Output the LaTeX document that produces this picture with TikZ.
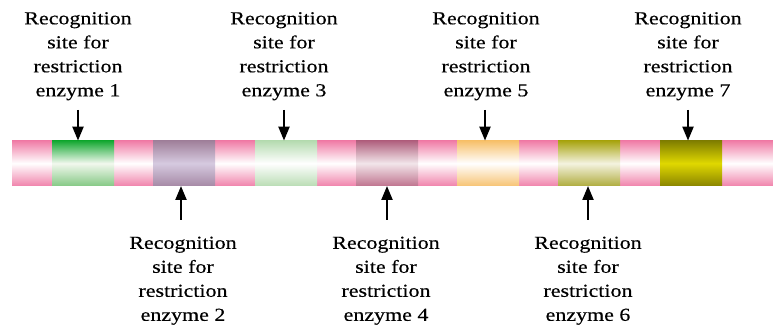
\documentclass[tikz,border=0pt]{standalone}
\usepackage{fontspec}
\setmainfont[FakeStretch=1.2,FakeBold=0.4]{Liberation Serif}
\usetikzlibrary{arrows.meta}
\definecolor{pinkT}{HTML}{F07CA6}
\definecolor{pinkB}{HTML}{F084AC}
\definecolor{gAT}{HTML}{14A832}\definecolor{gAM}{HTML}{F2F8EE}\definecolor{gAB}{HTML}{86C986}
\definecolor{pBT}{HTML}{A0809A}\definecolor{pBM}{HTML}{D6CAE0}\definecolor{pBB}{HTML}{A68AA6}
\definecolor{gCT}{HTML}{B5DBB0}\definecolor{gCB}{HTML}{BADDB5}
\definecolor{mDT}{HTML}{B0607E}\definecolor{mDM}{HTML}{F2E6EA}\definecolor{mDB}{HTML}{C07590}
\definecolor{oET}{HTML}{F7C06A}\definecolor{oEB}{HTML}{F7C475}
\definecolor{yFT}{HTML}{A8A410}\definecolor{yFM}{HTML}{F4F3E0}\definecolor{yFB}{HTML}{B0AD40}
\definecolor{yGT}{HTML}{807E00}\definecolor{yGM}{HTML}{E0D800}\definecolor{yGB}{HTML}{8A8500}
\tikzset{
  seg/.style={draw=none, inner sep=0pt, minimum width=62pt, minimum height=45pt, anchor=south west},
  lbl/.style={align=center, inner sep=0pt, anchor=north, font=\fontsize{18.3}{24}\selectfont},
  arr/.style={line width=2.2pt, -{Triangle[length=14pt,width=11pt]}}
}
\begin{document}
\begin{tikzpicture}[x=1pt,y=1pt]
\useasboundingbox (0,0) rectangle (773,326);
% pink bar
\node[seg, minimum width=761pt, top color=pinkT, bottom color=pinkB, middle color=white] (bar) at (12,140) {};
% segments
\node[seg, top color=gAT, bottom color=gAB, middle color=gAM] (s1) at (52,140) {};
\node[seg, top color=pBT, bottom color=pBB, middle color=pBM] (s2) at (153,140) {};
\node[seg, top color=gCT, bottom color=gCB, middle color=white] (s3) at (255,140) {};
\node[seg, top color=mDT, bottom color=mDB, middle color=mDM] (s4) at (356,140) {};
\node[seg, top color=oET, bottom color=oEB, middle color=white] (s5) at (457,140) {};
\node[seg, top color=yFT, bottom color=yFB, middle color=yFM] (s6) at (558,140) {};
\node[seg, top color=yGT, bottom color=yGB, middle color=yGM] (s7) at (660,140) {};
% top labels
\node[lbl] (l1) at (78,314) {Recognition\\site for\\restriction\\enzyme 1};
\node[lbl] (l3) at (284,314) {Recognition\\site for\\restriction\\enzyme 3};
\node[lbl] (l5) at (486,314) {Recognition\\site for\\restriction\\enzyme 5};
\node[lbl] (l7) at (688,314) {Recognition\\site for\\restriction\\enzyme 7};
% bottom labels
\node[lbl] (l2) at (183,89.5) {Recognition\\site for\\restriction\\enzyme 2};
\node[lbl] (l4) at (386,89.5) {Recognition\\site for\\restriction\\enzyme 4};
\node[lbl] (l6) at (588,89.5) {Recognition\\site for\\restriction\\enzyme 6};
% arrow start points
\coordinate (a1) at (78,216);
\coordinate (a3) at (284,216);
\coordinate (a5) at (485,216);
\coordinate (a7) at (688,216);
\coordinate (a2) at (181,106);
\coordinate (a4) at (387,106);
\coordinate (a6) at (588,106);
\draw[arr] (a1) -- (a1 |- s1.north);
\draw[arr] (a3) -- (a3 |- s3.north);
\draw[arr] (a5) -- (a5 |- s5.north);
\draw[arr] (a7) -- (a7 |- s7.north);
\draw[arr] (a2) -- (a2 |- s2.south);
\draw[arr] (a4) -- (a4 |- s4.south);
\draw[arr] (a6) -- (a6 |- s6.south);
\end{tikzpicture}
\end{document}
